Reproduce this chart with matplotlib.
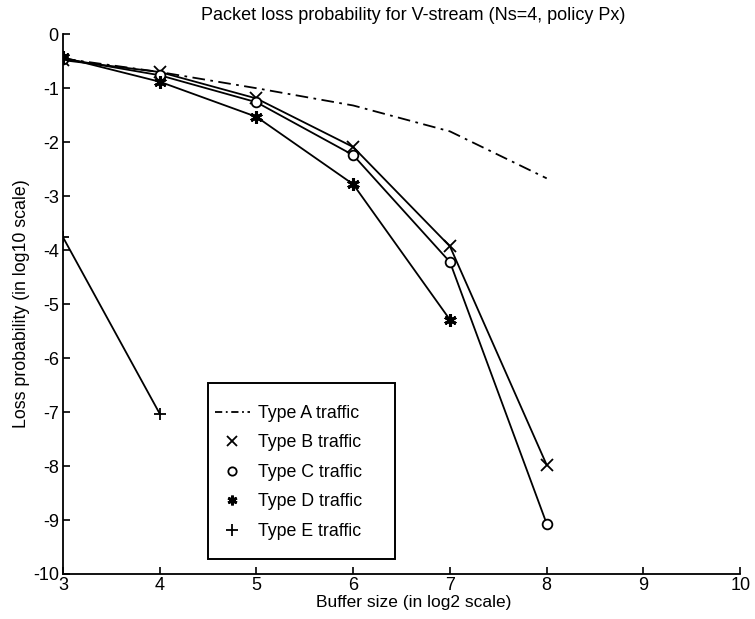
import numpy as np
import matplotlib
matplotlib.use("Agg")
import matplotlib.pyplot as plt
from matplotlib.patches import Rectangle

plt.rcParams['font.family'] = ['Liberation Sans', 'DejaVu Sans']

# buffer sizes (log2) and loss probabilities (log10)
x_all = [3, 4, 5, 6, 7, 8]
type_a = [-0.45, -0.70, -1.00, -1.32, -1.80, -2.67]
type_b = [-0.48, -0.70, -1.19, -2.09, -3.93, -7.98]
type_c = [-0.45, -0.76, -1.26, -2.24, -4.22, -9.07]
x_d = [3, 4, 5, 6, 7]
type_d = [-0.43, -0.88, -1.53, -2.78, -5.29]
x_e = [3, 4]
type_e = [-3.76, -7.03]

labels = ["Type A traffic", "Type B traffic", "Type C traffic",
          "Type D traffic", "Type E traffic"]
title = "Packet loss probability for V-stream (Ns=4, policy Px)"

fig = plt.figure(figsize=(7.55, 6.19), dpi=100)
ax = fig.add_axes([0.0834, 0.0727, 0.897, 0.872])

lw = 1.3
ax.plot(x_all, type_a, color="k", lw=lw, linestyle=(0, (7, 3, 1.5, 3)))
ax.plot(x_all, type_b, color="k", lw=lw, marker="x", ms=8, mew=1.3)
ax.plot(x_all, type_c, color="k", lw=lw, marker="o", ms=7, mfc="white", mew=1.3)
ax.plot(x_d, type_d, color="k", lw=lw, marker=(6, 2, 0), ms=9, mew=2.2)
ax.plot(x_e, type_e, color="k", lw=lw, marker="+", ms=9, mew=1.3)

# legend box drawn by hand, legend itself without frame
box = Rectangle((0.214, 0.028), 0.276, 0.326, transform=ax.transAxes,
                facecolor="white", edgecolor="k", lw=1.4, zorder=5)
ax.add_patch(box)

h = []
h.append(plt.Line2D([], [], color="k", lw=lw, linestyle=(0, (4, 2, 1, 2))))
h.append(plt.Line2D([], [], color="k", ls="none", marker="x", ms=7, mew=1.3))
h.append(plt.Line2D([], [], color="k", ls="none", marker="o", ms=6, mfc="white", mew=1.3))
h.append(plt.Line2D([], [], color="k", ls="none", marker=(6, 2, 0), ms=7, mew=2))
h.append(plt.Line2D([], [], color="k", ls="none", marker="+", ms=8, mew=1.3))
leg = ax.legend(h, labels, loc="upper left", bbox_to_anchor=(0.2245, 0.313),
                fontsize=12.8, frameon=False, borderpad=0, borderaxespad=0,
                labelspacing=0.7, handlelength=1.95, handletextpad=0.45)
leg.set_zorder(6)

ax.set_xlim(3, 10)
ax.set_ylim(-10, 0)
ax.set_xticks(range(3, 11))
ax.set_yticks(range(-10, 1))
ax.set_yticklabels([str(v) for v in range(-10, 1)])
ax.spines["top"].set_visible(False)
ax.spines["right"].set_visible(False)
ax.spines["left"].set_linewidth(1.3)
ax.spines["bottom"].set_linewidth(1.3)
ax.tick_params(direction="in", length=5, width=1.2, labelsize=13)
ax.tick_params(axis="x", pad=2)
ax.tick_params(axis="y", pad=3)

ax.set_title(title, fontsize=13, pad=10, x=0.517)
ax.set_xlabel("Buffer size (in log2 scale)", fontsize=12.5)
ax.xaxis.set_label_coords(0.518, -0.039)
ax.set_ylabel("Loss probability (in log10 scale)", fontsize=12.8, labelpad=2)

fig.savefig("out.png", dpi=100)
